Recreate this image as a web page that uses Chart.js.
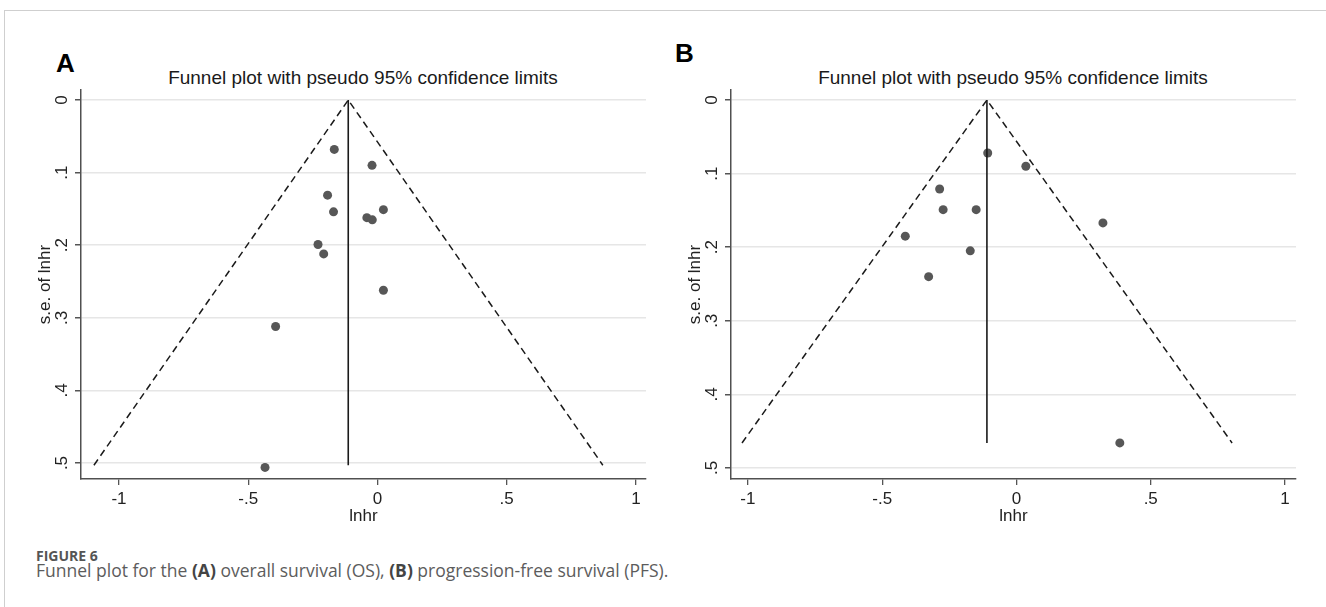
<!DOCTYPE html>
<html>
<head>
<meta charset="utf-8">
<script src="https://cdn.jsdelivr.net/npm/chart.js@4.4.1/dist/chart.umd.min.js"></script>
<style>
  body { margin: 0; background: #fff; width: 1326px; height: 607px; overflow: hidden; position: relative; font-family: "Liberation Sans", Arial, sans-serif; }
  .frame { position: absolute; left: 4px; top: 10px; width: 1330px; height: 610px; border-top: 1px solid #cfcfcf; border-left: 1px solid #cfcfcf; }
  .panel { position: absolute; top: 0; }
  .title { position: absolute; top: 68px; font-size: 19px; line-height: 19px; color: #1a1a1a; white-space: nowrap; transform: translateX(-50%); }
  .tag { position: absolute; font-size: 26px; line-height: 26px; font-weight: bold; color: #000; }
  .cap-head { position: absolute; left: 36px; top: 549px; font-family: "Open Sans", sans-serif; font-weight: bold; font-size: 14px; line-height: 14px; color: #555; }
  .cap-text { position: absolute; left: 36px; top: 562px; font-family: "Open Sans", sans-serif; font-size: 17.5px; line-height: 17.5px; color: #5c5c5c; white-space: nowrap; }
  .cap-text b { color: #444; }
</style>
</head>
<body>
<div class="frame"></div>

<div class="tag" style="left:56px; top:50px;">A</div>
<div class="tag" style="left:675px; top:40px;">B</div>
<div class="title" style="left:363px;">Funnel plot with pseudo 95% confidence limits</div>
<div class="title" style="left:1013px;">Funnel plot with pseudo 95% confidence limits</div>

<canvas id="chartA" class="panel" style="left:0px;" width="660" height="527"></canvas>
<canvas id="chartB" class="panel" style="left:650px;" width="660" height="527"></canvas>

<div class="cap-head">FIGURE 6</div>
<div class="cap-text">Funnel plot for the <b>(A)</b> overall survival (OS), <b>(B)</b> progression-free survival (PFS).</div>

<script>
// tick values and labels (Stata style, no leading zero)
const xTicks = [-1, -0.5, 0, 0.5, 1];
const xTickLabels = ['-1', '-.5', '0', '.5', '1'];
const yTicks = [0, 0.1, 0.2, 0.3, 0.4, 0.5];
const yTickLabels = ['0', '.1', '.2', '.3', '.4', '.5'];

// panel A - overall survival
const lnhrA = [-0.167, -0.021, -0.193, -0.170, 0.023, -0.041, -0.020, -0.230, -0.208, 0.023, -0.394, -0.435];
const seA = [0.068, 0.090, 0.131, 0.154, 0.151, 0.162, 0.165, 0.199, 0.212, 0.262, 0.312, 0.506];
const pooledA = -0.113;
const funnelEdgeA = [-1.097, 0.872];
const funnelBottomA = 0.503;

// panel B - progression-free survival
const lnhrB = [-0.107, 0.035, -0.286, -0.273, -0.150, -0.414, -0.172, -0.327, 0.322, 0.385];
const seB = [0.072, 0.090, 0.121, 0.149, 0.149, 0.185, 0.205, 0.240, 0.167, 0.466];
const pooledB = -0.110;
const funnelEdgeB = [-1.022, 0.803];
const funnelBottomB = 0.466;

const tickFont = { family: '"Liberation Sans", Arial, sans-serif', size: 17 };

function makeChart(id, lnhr, se, pooled, edge, bottom, xRange, yRange) {
    const points = lnhr.map((x, i) => ({ x: x, y: se[i] }));
    const funnel = [
        { x: edge[0], y: bottom },
        { x: pooled, y: 0 },
        { x: edge[1], y: bottom },
    ];
    const pooledLine = [{ x: pooled, y: 0 }, { x: pooled, y: bottom }];

    return new Chart(document.getElementById(id), {
        type: 'scatter',
        data: {
            datasets: [
                {
                    data: funnel,
                    showLine: true,
                    borderColor: '#1a1a1a',
                    borderWidth: 1.5,
                    borderDash: [7, 4.5],
                    pointRadius: 0,
                },
                {
                    data: pooledLine,
                    showLine: true,
                    borderColor: '#1a1a1a',
                    borderWidth: 1.6,
                    pointRadius: 0,
                },
                {
                    data: points,
                    pointRadius: 4.5,
                    pointBackgroundColor: '#575757',
                    pointBorderWidth: 0,
                },
            ],
        },
        options: {
            responsive: false,
            animation: false,
            devicePixelRatio: 1,
            layout: { padding: { left: 35, top: 90, right: 14, bottom: 0 } },
            plugins: { legend: { display: false }, tooltip: { enabled: false } },
            scales: {
                x: {
                    type: 'linear',
                    min: xRange[0],
                    max: xRange[1],
                    afterBuildTicks: (s) => { s.ticks = xTicks.map(v => ({ value: v })); },
                    afterFit: (s) => { s.height = 48; },
                    ticks: {
                        callback: (v, i) => xTickLabels[i],
                        font: tickFont,
                        color: '#222',
                        padding: 4,
                        maxRotation: 0,
                        autoSkip: false,
                    },
                    grid: { drawOnChartArea: false, tickLength: 6, tickColor: '#555', lineWidth: 1.3 },
                    border: { color: '#505050', width: 1.5 },
                    title: { display: true, text: 'lnhr', font: tickFont, color: '#222', padding: 0 },
                },
                y: {
                    type: 'linear',
                    reverse: true,
                    min: yRange[0],
                    max: yRange[1],
                    afterBuildTicks: (s) => { s.ticks = yTicks.map(v => ({ value: v })); },
                    afterFit: (s) => { s.width = 46; },
                    ticks: {
                        callback: (v, i) => yTickLabels[i],
                        font: tickFont,
                        color: '#222',
                        padding: 6,
                        minRotation: 90,
                        maxRotation: 90,
                        crossAlign: 'center',
                        autoSkip: false,
                    },
                    grid: { color: '#e6e6e6', lineWidth: 1.5, tickLength: 6, tickColor: '#555' },
                    border: { color: '#505050', width: 1.5 },
                    title: { display: true, text: 's.e. of lnhr', font: tickFont, color: '#222', padding: 0 },
                },
            },
        },
    });
}

makeChart('chartA', lnhrA, seA, pooledA, funnelEdgeA, funnelBottomA, [-1.147, 1.039], [-0.0138, 0.522]);
makeChart('chartB', lnhrB, seB, pooledB, funnelEdgeB, funnelBottomB, [-1.063, 1.041], [-0.0136, 0.515]);
</script>
</body>
</html>
